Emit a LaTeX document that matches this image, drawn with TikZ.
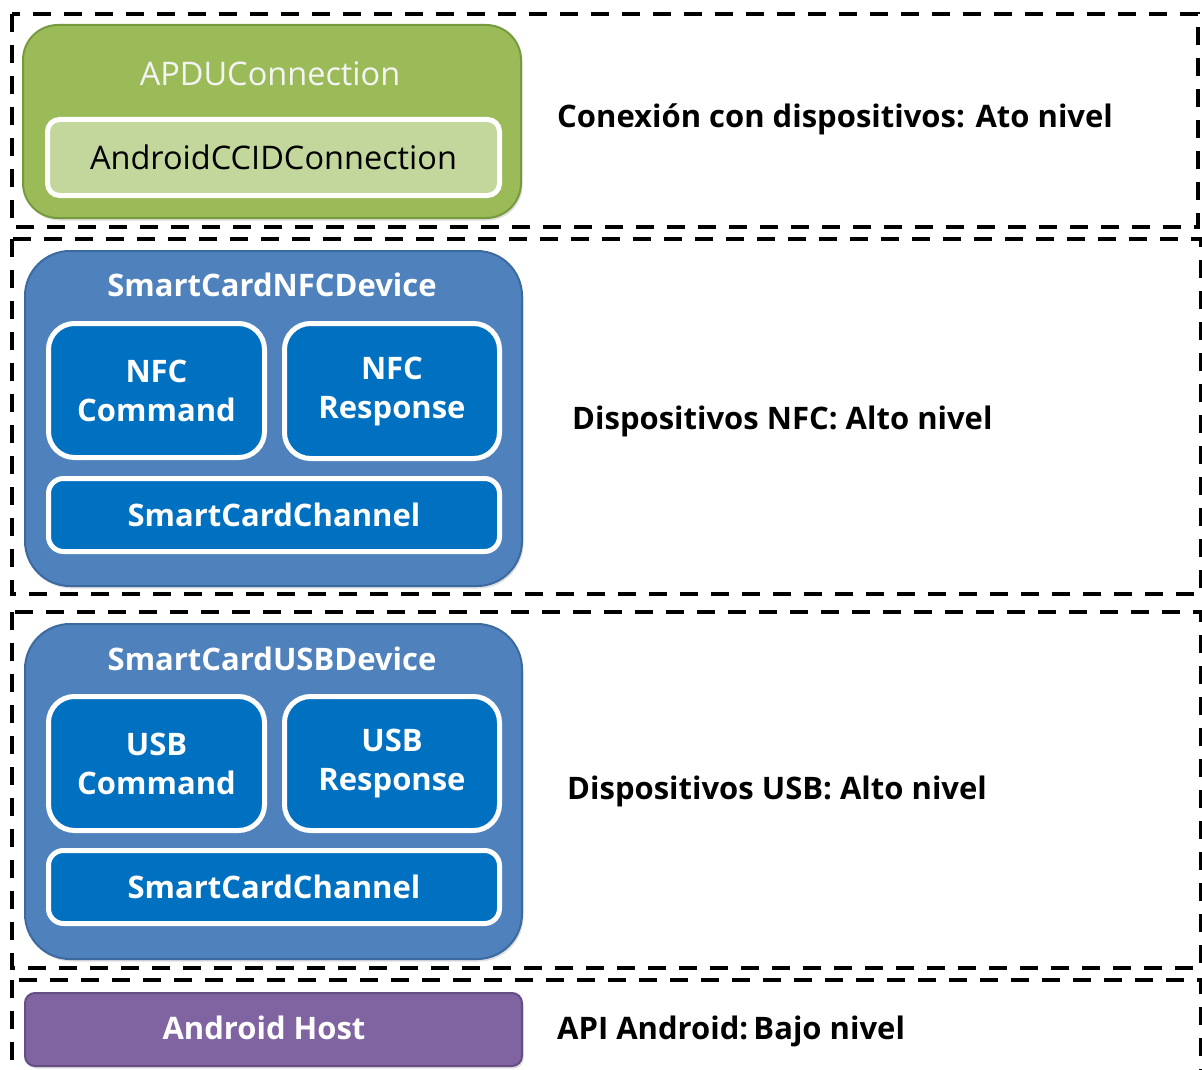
\documentclass[tikz,border=0pt]{standalone}
\usepackage{fontspec}
\setmainfont{Open Sans}
\usetikzlibrary{shadows}
\definecolor{grn}{HTML}{9BBB59}
\definecolor{grnd}{HTML}{789A3E}
\definecolor{grnl}{HTML}{C3D69B}
\definecolor{blu}{HTML}{4F81BD}
\definecolor{blud}{HTML}{3C6A9F}
\definecolor{blui}{HTML}{0070C0}
\definecolor{pur}{HTML}{8064A2}
\definecolor{purd}{HTML}{654E84}
\definecolor{offw}{HTML}{F4F4F4}
\tikzset{
  frame/.style={draw=black, line width=3.5pt, dash pattern=on 18pt off 13pt},
  shd/.style={drop shadow={opacity=0.25, shadow xshift=1.5pt, shadow yshift=-2.5pt}},
  outerbox/.style={shape=rectangle, rounded corners=#1, line width=2pt, shd, inner sep=0pt, anchor=north west},
  innerbox/.style={shape=rectangle, rounded corners=#1, draw=white, line width=5pt, inner sep=0pt, anchor=north west, align=center, shd},
  boldtxt/.style={font=\fontsize{31}{39}\selectfont\bfseries},
  regtxt/.style={font=\fontsize{32.5}{39}\selectfont},
  lbl/.style={font=\fontsize{31}{38}\selectfont\bfseries, text=black, anchor=west, inner sep=0pt},
}
\begin{document}
\begin{tikzpicture}[x=1pt, y=-1pt]
\useasboundingbox (0,0) rectangle (1202,1070);
\clip (0,0) rectangle (1202,1070);
\fill[white] (0,0) rectangle (1202,1070);

% dashed frames
\draw[frame] (12,14) rectangle (1198,227);
\draw[frame] (12,239) rectangle (1201,594);
\draw[frame] (12,612) rectangle (1201,968);
\draw[frame] (12,980) rectangle (1201,1090);

% green
\node[outerbox=35pt, fill=grn, draw=grnd, minimum width=498pt, minimum height=193pt] (apdu) at (22,24) {};
\node[regtxt, text=offw] (apdut) at (270,74) {APDUConnection};
\node[innerbox=12pt, fill=grnl, minimum width=452pt, minimum height=76pt, regtxt, text=black] (ccid) at (45,117) {AndroidCCIDConnection};

% NFC
\node[outerbox=45pt, fill=blu, draw=blud, minimum width=497pt, minimum height=335pt] (nfc) at (24,250) {};
\node[boldtxt, text=white] (nfct) at (272,285) {SmartCardNFCDevice};
\node[innerbox=26pt, fill=blui, minimum width=216pt, minimum height=134pt, boldtxt, text=white] (nfccmd) at (46,321) {NFC\\Command};
\node[innerbox=26pt, fill=blui, minimum width=215pt, minimum height=135pt, boldtxt, text=white] (nfcres) at (282,321) {NFC\\Response};
\node[innerbox=15pt, fill=blui, minimum width=451pt, minimum height=73pt, boldtxt, text=white] (nfcch) at (46,476) {SmartCardChannel};

% USB
\node[outerbox=45pt, fill=blu, draw=blud, minimum width=497pt, minimum height=335pt] (usb) at (24,623) {};
\node[boldtxt, text=white] (usbt) at (272,659) {SmartCardUSBDevice};
\node[innerbox=26pt, fill=blui, minimum width=216pt, minimum height=134pt, boldtxt, text=white] (usbcmd) at (46,694) {USB\\Command};
\node[innerbox=26pt, fill=blui, minimum width=215pt, minimum height=134pt, boldtxt, text=white] (usbres) at (282,694) {USB\\Response};
\node[innerbox=15pt, fill=blui, minimum width=451pt, minimum height=73pt, boldtxt, text=white] (usbch) at (46,848) {SmartCardChannel};

% Android host
\node[outerbox=10pt, fill=pur, draw=purd, minimum width=497pt, minimum height=73pt] (host) at (24,992) {};
\node[boldtxt, text=white] (hostt) at (264,1028) {Android Host};

% labels
\node[lbl] (l1) at (557,119) {Conexión con dispositivos: Ato nivel};
\node[lbl] (l2) at (572,421) {Dispositivos NFC: Alto nivel};
\node[lbl] (l3) at (567,791) {Dispositivos USB: Alto nivel};
\node[lbl] (l4) at (557,1031) {API Android:\,Bajo nivel};
\end{tikzpicture}
\end{document}
